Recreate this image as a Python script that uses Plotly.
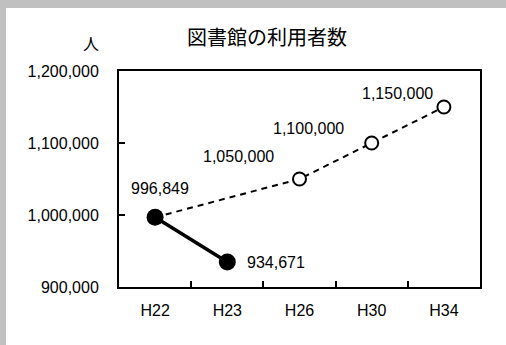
import plotly.graph_objects as go

# Library visitors: actual results and planned targets
years = ["H22", "H23", "H26", "H30", "H34"]
actual = [996849, 934671, None, None, None]
target = [996849, None, 1050000, 1100000, 1150000]
y_ticks = [900000, 1000000, 1100000, 1200000]
y_tick_text = ["900,000", "1,000,000", "1,100,000", "1,200,000"]

title_text = "図書館の利用者数"
unit_text = "人"

# per-label placement (anchor, xshift, yshift) in pixels
actual_label_style = [("center", "middle", 5, 29), ("left", "middle", 18, 0)]
target_label_style = [None, None, ("right", "middle", -24, 23),
                      ("right", "middle", -26, 15), ("right", "middle", -9, 14)]

NUM_FONT = "Liberation Sans, Arial, sans-serif"
CJK_FONT = "Noto Sans CJK JP, sans-serif"

fig = go.Figure()

fig.add_trace(go.Scatter(
    x=years, y=target, mode="lines+markers", connectgaps=True,
    line=dict(color="black", width=2, dash="6px,5px"),
    marker=dict(symbol="circle", size=13, color="white",
                line=dict(color="black", width=2)),
    hoverinfo="skip", showlegend=False,
))
fig.add_trace(go.Scatter(
    x=years, y=actual, mode="lines+markers",
    line=dict(color="black", width=3.5),
    marker=dict(symbol="circle", size=17, color="black"),
    hoverinfo="skip", showlegend=False,
))

annotations = []
for series, styles in ((actual, actual_label_style), (target, target_label_style)):
    for i, (cat, val) in enumerate(zip(years, series)):
        if val is None or i >= len(styles) or styles[i] is None:
            continue
        if series is target and actual[i] is not None:
            continue
        xa, ya, dx, dy = styles[i]
        annotations.append(dict(
            x=cat, y=val, xref="x", yref="y", text=f"{val:,}",
            showarrow=False, xanchor=xa, yanchor=ya, xshift=dx, yshift=dy,
            font=dict(family=NUM_FONT, size=16, color="black"),
        ))

annotations.append(dict(
    x=(267 - 119) / 361, y=(287 - 37) / 216, xref="paper", yref="paper",
    text=title_text, showarrow=False, xanchor="center", yanchor="middle",
    font=dict(family=CJK_FONT, size=20, color="black"),
))
annotations.append(dict(
    x=(91 - 119) / 361, y=(287 - 43) / 216, xref="paper", yref="paper",
    text=unit_text, showarrow=False, xanchor="center", yanchor="middle",
    font=dict(family=CJK_FONT, size=16, color="black"),
))

# gray frame bands along the top and left edges
shapes = [
    dict(type="rect", xref="paper", yref="paper", layer="below",
         x0=-119 / 361 - 0.01, x1=(6 - 119) / 361, y0=-1, y1=2,
         fillcolor="#c0c0c0", line=dict(width=0)),
    dict(type="rect", xref="paper", yref="paper", layer="below",
         x0=-1, x1=2, y0=(287 - 8) / 216, y1=287 / 216 + 0.01,
         fillcolor="#c0c0c0", line=dict(width=0)),
]

fig.update_layout(
    width=506, height=345,
    margin=dict(l=119, r=26, t=71, b=58),
    paper_bgcolor="white", plot_bgcolor="white",
    annotations=annotations, shapes=shapes,
    xaxis=dict(
        type="category", categoryorder="array", categoryarray=years,
        range=[-0.5, len(years) - 0.5],
        showline=True, linecolor="black", linewidth=2, mirror=True,
        ticks="inside", tickson="boundaries", ticklen=6, tickwidth=1.5,
        tickcolor="black", showgrid=False, zeroline=False,
        tickfont=dict(family=NUM_FONT, size=16, color="black"),
        ticklabelstandoff=8,
    ),
    yaxis=dict(
        range=[900000, 1200000], tickvals=y_ticks, ticktext=y_tick_text,
        showline=True, linecolor="black", linewidth=2, mirror=True,
        ticks="inside", ticklen=6, tickwidth=1.5, tickcolor="black",
        showgrid=False, zeroline=False,
        tickfont=dict(family=NUM_FONT, size=16, color="black"),
        ticklabelstandoff=15,
    ),
)

fig.write_html("out.html")
